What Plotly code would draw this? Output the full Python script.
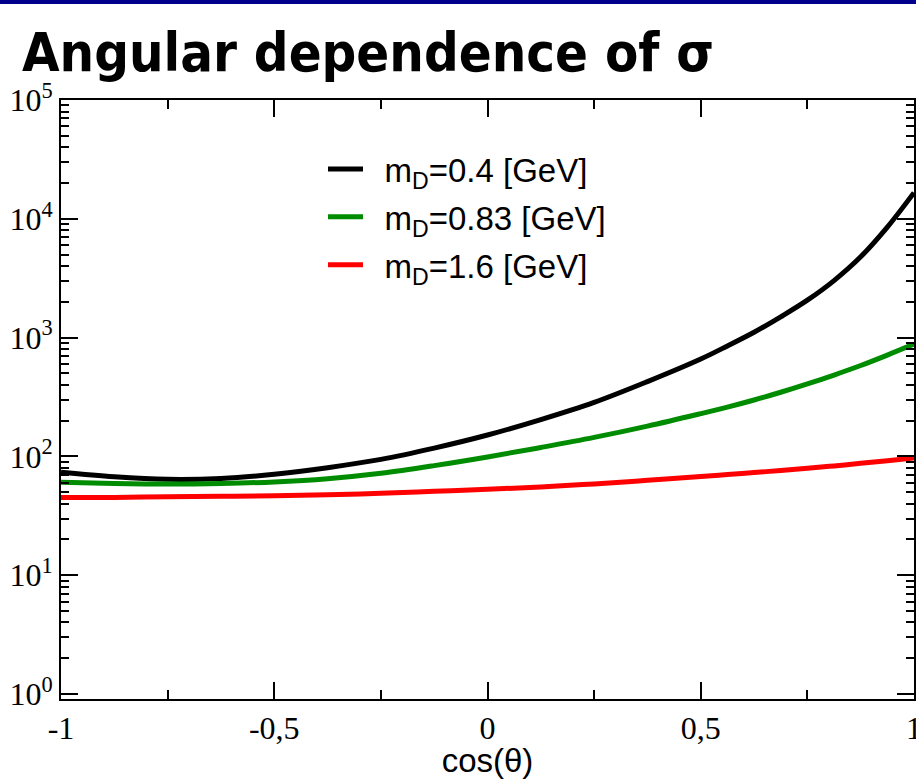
import plotly.graph_objects as go

# data
cos_theta = [-1, -0.875, -0.75, -0.625, -0.5, -0.375, -0.25, -0.125, 0,
             0.125, 0.25, 0.375, 0.5, 0.5625, 0.625, 0.6875, 0.75, 0.8125,
             0.875, 0.9375, 1]
sigma_04 = [73.5, 67.3, 64.1, 65.2, 70.8, 80.4, 94.4, 117.5, 151.4,
            204.2, 285.1, 426.6, 660.7, 851.1, 1109, 1496, 2065, 3020,
            4786, 8511, 16596]
sigma_083 = [60.5, 59.2, 58.6, 59.2, 61.0, 64.9, 72.1, 83.6, 98.9,
             118.9, 144.5, 179.9, 229.1, 260.0, 298.5, 346.7, 407.4, 484.2,
             582.1, 712.9, 881.0]
sigma_16 = [45.2, 45.2, 45.7, 46.1, 46.6, 47.5, 48.9, 50.8, 52.8,
            55.4, 58.7, 62.9, 67.6, 70.3, 73.1, 76.2, 79.4, 83.2,
            87.4, 92.0, 97.1]

series_names = ["m<sub>D</sub>=0.4 [GeV]", "m<sub>D</sub>=0.83 [GeV]", "m<sub>D</sub>=1.6 [GeV]"]
series_colors = ["#000000", "#008C00", "#FF0000"]

x_tickvals = [-1, -0.5, 0, 0.5, 1]
x_ticktext = ["-1", "-0,5", "0", "0,5", "1"]
x_minor = [-0.75, -0.25, 0.25, 0.75]

y_tickvals = [1, 10, 100, 1e3, 1e4, 1e5]
y_ticktext = ["10<sup>0</sup>", "10<sup>1</sup>", "10<sup>2</sup>",
              "10<sup>3</sup>", "10<sup>4</sup>", "10<sup>5</sup>"]
y_minor = [k * 10 ** n for n in range(0, 5) for k in range(2, 10)]

fig = go.Figure()
for i, (ys, name, col) in enumerate(zip([sigma_04, sigma_083, sigma_16], series_names, series_colors)):
    fig.add_trace(go.Scatter(
        x=cos_theta, y=ys, mode="lines", name="\u2002" + name,
        line=dict(color=col, width=5, shape="spline", smoothing=1.0),
        legendgroup="g%d" % i,
    ))

W, H = 916, 779
L, R, T, B = 61, 2, 100, 80
pw = W - L - R
ph = H - T - B

tickfont = dict(family="Liberation Serif, Times New Roman, serif", size=32, color="black")

fig.update_layout(
    width=W, height=H,
    margin=dict(l=L, r=R, t=T, b=B, pad=0, autoexpand=False),
    paper_bgcolor="white", plot_bgcolor="white",
    showlegend=True,
    legend=dict(
        x=(323 - L) / pw, y=1 - (141 - T) / ph, xanchor="left", yanchor="top",
        font=dict(family="Liberation Sans, Arial, sans-serif", size=33, color="black"),
        bgcolor="rgba(0,0,0,0)", borderwidth=0, itemwidth=35, tracegroupgap=2,
    ),
    xaxis=dict(
        range=[-1, 1], tickmode="array", tickvals=x_tickvals, ticktext=x_ticktext,
        ticks="inside", ticklen=17, tickwidth=1.5, tickcolor="black",
        showline=True, linewidth=2, linecolor="black", mirror="ticks",
        showgrid=False, zeroline=False, tickfont=tickfont, ticklabeloverflow="allow",
        automargin=False,
        minor=dict(tickmode="array", tickvals=x_minor, ticks="inside", ticklen=9,
                   tickwidth=1.5, tickcolor="black", showgrid=False),
        title=dict(text="cos(θ)", font=dict(family="Liberation Sans, Arial, sans-serif", size=33, color="black"), standoff=8),
    ),
    yaxis=dict(
        type="log", range=[-0.042, 5], tickmode="array", tickvals=y_tickvals, ticktext=y_ticktext,
        ticks="inside", ticklen=17, tickwidth=1.5, tickcolor="black",
        showline=True, linewidth=2, linecolor="black", mirror="ticks",
        showgrid=False, zeroline=False, tickfont=tickfont, ticklabeloverflow="allow",
        automargin=False,
        minor=dict(tickmode="array", tickvals=y_minor, ticks="inside", ticklen=8,
                   tickwidth=1.5, tickcolor="black", showgrid=False),
    ),
    shapes=[dict(type="rect", xref="paper", yref="paper",
                 x0=-L / pw, x1=(W - L) / pw,
                 y0=1 + (T - 4) / ph, y1=1 + T / ph,
                 fillcolor="#00008C", line=dict(width=0), layer="above")],
    annotations=[dict(text="<b>Angular dependence of σ</b>", xref="paper", yref="paper",
                      x=(20 - L) / pw, y=1 + (T - 52) / ph, xanchor="left", yanchor="middle",
                      showarrow=False,
                      font=dict(family="DejaVu Sans Condensed, DejaVu Sans, sans-serif", size=54, color="black"))],
)

fig.write_html("out.html")
